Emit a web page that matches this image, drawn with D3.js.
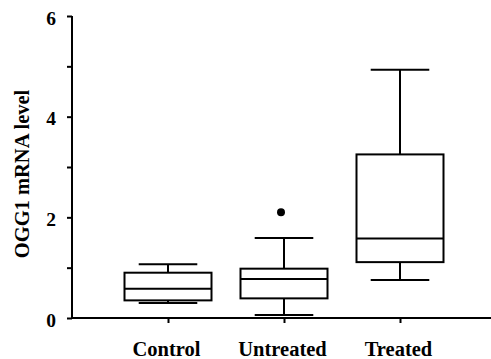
<!DOCTYPE html>
<html>
<head>
<meta charset="utf-8">
<script src="https://cdn.jsdelivr.net/npm/d3@7"></script>
<style>
html,body{margin:0;padding:0;background:#fff;}
svg{display:block;}
</style>
</head>
<body>
<svg id="chart" width="491" height="359"></svg>
<script>
const categories = ["Control", "Untreated", "Treated"];
const whiskerLow  = [0.30, 0.06, 0.755];
const q1          = [0.35, 0.39, 1.11];
const medians     = [0.58, 0.775, 1.58];
const q3          = [0.90, 0.98, 3.25];
const whiskerHigh = [1.067, 1.59, 4.93];
const outliers    = [[], [2.10], []];
const yTicks      = [0, 1, 2, 3, 4, 5, 6];
const yLabelTicks = [0, 2, 4, 6];
const yTitle = "OGG1 mRNA level";

const svg = d3.select("#chart");
const font = "'Liberation Serif','Times New Roman',serif";

const y = d3.scaleLinear().domain([0, 6]).range([318, 16]);
const x = d3.scalePoint().domain(categories).range([168, 400]);
const step = x.step();
const boxW = step * 0.75;
const capW = step * 0.505;

const g = svg.append("g");

categories.forEach((c, i) => {
  const cx = x(c);
  const bg = g.append("g").attr("stroke", "#000").attr("stroke-width", 2).attr("fill", "none");
  bg.append("line").attr("x1", cx).attr("x2", cx).attr("y1", y(q3[i])).attr("y2", y(whiskerHigh[i]));
  bg.append("line").attr("x1", cx).attr("x2", cx).attr("y1", y(q1[i])).attr("y2", y(whiskerLow[i]));
  bg.append("line").attr("x1", cx - capW / 2).attr("x2", cx + capW / 2).attr("y1", y(whiskerHigh[i])).attr("y2", y(whiskerHigh[i]));
  bg.append("line").attr("x1", cx - capW / 2).attr("x2", cx + capW / 2).attr("y1", y(whiskerLow[i])).attr("y2", y(whiskerLow[i]));
  bg.append("rect").attr("x", cx - boxW / 2).attr("width", boxW)
    .attr("y", y(q3[i])).attr("height", y(q1[i]) - y(q3[i])).attr("fill", "#fff");
  bg.append("line").attr("x1", cx - boxW / 2).attr("x2", cx + boxW / 2).attr("y1", y(medians[i])).attr("y2", y(medians[i]));
  outliers[i].forEach(v => {
    g.append("circle").attr("cx", cx - 3).attr("cy", y(v)).attr("r", 4).attr("fill", "#000");
  });
});

const yAxis = d3.axisLeft(y).tickValues(yTicks).tickSize(5).tickPadding(11)
  .tickFormat(d => yLabelTicks.includes(d) ? d : "");
const ya = svg.append("g").attr("transform", "translate(72,0)").call(yAxis);
ya.select(".domain").attr("d", `M0,${y(6)}V${y(0)}`);
ya.selectAll("path,line").attr("stroke", "#000").attr("stroke-width", 2);
ya.selectAll("text").attr("font-family", font).attr("font-weight", "bold").attr("font-size", 19.5)
  .attr("fill", "#000").attr("dy", "0.42em");

const xAxis = d3.axisBottom(x).tickSize(5).tickPadding(18).tickSizeOuter(0);
const xa = svg.append("g").attr("transform", `translate(0,${y(0)})`).call(xAxis);
xa.select(".domain").attr("d", "M72,0H491");
xa.selectAll("path,line").attr("stroke", "#000").attr("stroke-width", 2);
xa.selectAll("text").attr("font-family", font).attr("font-weight", "bold").attr("font-size", 20.5)
  .attr("fill", "#000").attr("dx", -2);

svg.append("text")
  .attr("transform", `translate(29,${(y(0) + y(6)) / 2 + 7}) rotate(-90)`)
  .attr("text-anchor", "middle")
  .attr("font-family", font).attr("font-weight", "bold").attr("font-size", 20.5)
  .attr("fill", "#000")
  .text(yTitle);
</script>
</body>
</html>
